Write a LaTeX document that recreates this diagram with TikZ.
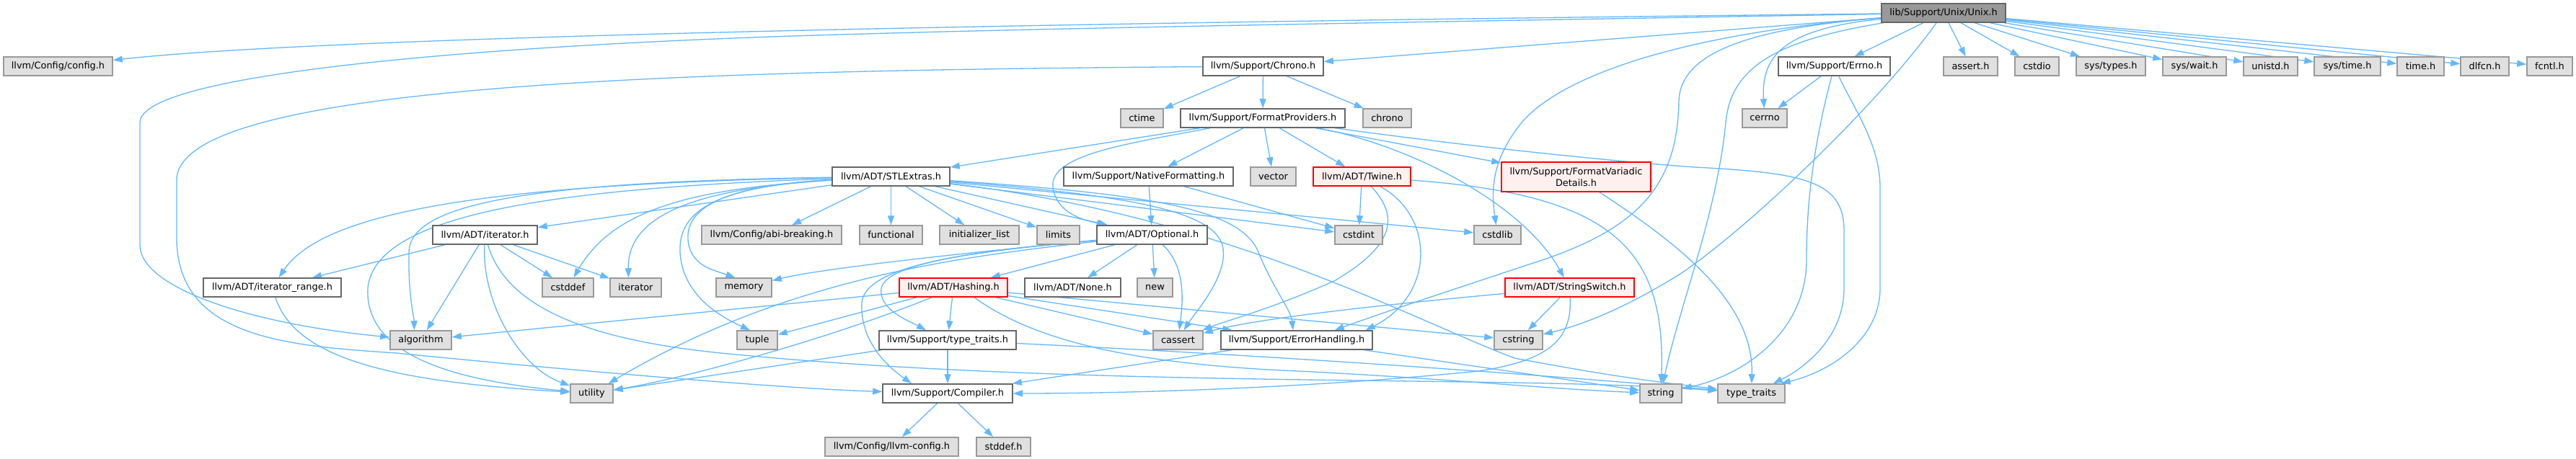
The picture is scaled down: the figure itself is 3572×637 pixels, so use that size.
\documentclass[tikz,border=0pt]{standalone}
\usepackage{fontspec}
\setmainfont{DejaVu Sans}
\usetikzlibrary{arrows.meta}
\definecolor{edgec}{HTML}{63B8FF}
\definecolor{gfill}{HTML}{E0E0E0}
\definecolor{gdraw}{HTML}{999999}
\definecolor{wdraw}{HTML}{666666}
\definecolor{rfill}{HTML}{FFF0F0}
\definecolor{rdraw}{HTML}{FF0000}
\definecolor{mfill}{HTML}{999999}
\pgfdeclarelayer{edgelayer}
\pgfsetlayers{edgelayer,main}
\begin{document}
\begin{tikzpicture}[x=1pt,y=-1pt,
  base/.style={rectangle, inner sep=0pt, minimum height=26pt, line width=1.5pt, font=\fontsize{12.9}{15.5}\selectfont},
  gnode/.style={base, draw=gdraw, fill=gfill},
  wnode/.style={base, draw=wdraw, fill=white},
  rnode/.style={base, draw=rdraw, fill=rfill},
  mnode/.style={base, draw=wdraw, fill=mfill},
  dep/.style={draw=edgec, line width=1.3pt, -{Triangle[length=13pt,width=9pt]}}]
\useasboundingbox (0,0) rectangle (3572,637);
% row 1
\node[mnode, minimum width=172pt] (unix) at (2695,18) {lib/Support/Unix/Unix.h};
% row 2
\node[gnode, minimum width=151pt] (config) at (80.5,92) {llvm/Config/config.h};
\node[wnode, minimum width=167pt] (chronoh) at (1751.5,92) {llvm/Support/Chrono.h};
\node[wnode, minimum width=155pt] (errnoh) at (2543.5,92) {llvm/Support/Errno.h};
\node[gnode, minimum width=75pt] (asserth) at (2732.5,92) {assert.h};
\node[gnode, minimum width=61pt] (cstdio) at (2824.5,92) {cstdio};
\node[gnode, minimum width=96pt] (systypes) at (2927,92) {sys/types.h};
\node[gnode, minimum width=88pt] (syswait) at (3043,92) {sys/wait.h};
\node[gnode, minimum width=75pt] (unistd) at (3148.5,92) {unistd.h};
\node[gnode, minimum width=92pt] (systime) at (3255,92) {sys/time.h};
\node[gnode, minimum width=65pt] (timeh) at (3356.5,92) {time.h};
\node[gnode, minimum width=67pt] (dlfcn) at (3445.5,92) {dlfcn.h};
\node[gnode, minimum width=63pt] (fcntl) at (3535.5,92) {fcntl.h};
% row 3
\node[gnode, minimum width=59pt] (ctime) at (1583.5,164) {ctime};
\node[wnode, minimum width=228pt] (fmtprov) at (1751,164) {llvm/Support/FormatProviders.h};
\node[gnode, minimum width=67pt] (chrono) at (1923.5,164) {chrono};
\node[gnode, minimum width=62pt] (cerrno) at (2447,164) {cerrno};
% row 4
\node[wnode, minimum width=163pt] (stlextras) at (1235.5,245) {llvm/ADT/STLExtras.h};
\node[wnode, minimum width=235pt] (natfmt) at (1592.5,245) {llvm/Support/NativeFormatting.h};
\node[gnode, minimum width=63pt] (vector) at (1765.5,245) {vector};
\node[rnode, minimum width=135pt] (twine) at (1888.5,245) {llvm/ADT/Twine.h};
\node[rnode, minimum width=207pt, minimum height=41pt, align=center] (fvd) at (2185.5,245.5) {llvm/Support/FormatVariadic\\Details.h};
% row 5
\node[wnode, minimum width=145pt] (iterh) at (672.5,326) {llvm/ADT/iterator.h};
\node[gnode, minimum width=194pt] (abi) at (1070,326) {llvm/Config/abi-breaking.h};
\node[gnode, minimum width=87pt] (functional) at (1235.5,326) {functional};
\node[gnode, minimum width=110pt] (initlist) at (1358,326) {initializer\_list};
\node[gnode, minimum width=59pt] (limits) at (1467.5,326) {limits};
\node[wnode, minimum width=153pt] (optional) at (1597.5,326) {llvm/ADT/Optional.h};
\node[gnode, minimum width=66pt] (cstdint) at (1884,326) {cstdint};
\node[gnode, minimum width=65pt] (cstdlib) at (2076.5,326) {cstdlib};
% row 6
\node[wnode, minimum width=191pt] (iterrange) at (377.5,399) {llvm/ADT/iterator\_range.h};
\node[gnode, minimum width=71pt] (cstddef) at (787.5,399) {cstddef};
\node[gnode, minimum width=71pt] (iterator) at (881.5,399) {iterator};
\node[gnode, minimum width=77pt] (memory) at (1031.5,399) {memory};
\node[rnode, minimum width=150pt] (hashing) at (1322,399) {llvm/ADT/Hashing.h};
\node[wnode, minimum width=133pt] (none) at (1487.5,399) {llvm/ADT/None.h};
\node[gnode, minimum width=49pt] (new) at (1601.5,399) {new};
\node[rnode, minimum width=179pt] (strswitch) at (2176.5,399) {llvm/ADT/StringSwitch.h};
% row 7
\node[gnode, minimum width=85pt] (algorithm) at (583.5,472) {algorithm};
\node[gnode, minimum width=56pt] (tuple) at (1050,472) {tuple};
\node[wnode, minimum width=190pt] (tth) at (1314,472) {llvm/Support/type\_traits.h};
\node[gnode, minimum width=69pt] (cassert) at (1633.5,472) {cassert};
\node[wnode, minimum width=210pt] (errh) at (1798,472) {llvm/Support/ErrorHandling.h};
\node[gnode, minimum width=67pt] (cstring) at (2105.5,472) {cstring};
% row 8
\node[gnode, minimum width=59pt] (utility) at (820.5,546) {utility};
\node[wnode, minimum width=180pt] (compiler) at (1314,546) {llvm/Support/Compiler.h};
\node[gnode, minimum width=58pt] (string) at (2303,546) {string};
\node[gnode, minimum width=93pt] (typetraits) at (2428.5,546) {type\_traits};
% row 9
\node[gnode, minimum width=185pt] (llvmcfg) at (1236.5,620) {llvm/Config/llvm-config.h};
\node[gnode, minimum width=75pt] (stddefh) at (1391.5,620) {stddef.h};

\begin{pgfonlayer}{edgelayer}
\fill[white] (0,0) rectangle (3572,637);
% ---- Unix.h
\draw[dep] (unix) .. controls (1800,28) and (500,45) .. (config);
\draw[dep] (unix) .. controls (2000,30) and (1500,38) .. (1200,47) .. controls (700,60) and (194,100) .. (194,170) -- (194,340) .. controls (194,400) and (350,450) .. (algorithm);
\draw[dep] (unix) -- (chronoh);
\draw[dep] (unix) -- (errnoh);
\draw[dep] (unix) .. controls (2470,40) and (2442,80) .. (cerrno);
\draw[dep] (unix) .. controls (2470,55) and (2400,90) .. (2393,170) .. controls (2380,300) and (2330,420) .. (string);
\draw[dep] (unix) .. controls (2350,45) and (2170,100) .. (2110,170) .. controls (2070,220) and (2067,260) .. (cstdlib);
\draw[dep] (unix) .. controls (2420,40) and (2330,75) .. (2328,140) .. controls (2326,260) and (2270,320) .. (2120,367) .. controls (1990,410) and (1900,440) .. ([xshift=-53pt]errh.north east);
\draw[dep] (unix) .. controls (2600,150) and (2420,320) .. (2330,380) .. controls (2250,430) and (2190,452) .. (cstring);
\draw[dep] (unix) -- (asserth);
\draw[dep] (unix) -- (cstdio);
\draw[dep] (unix) -- (systypes);
\draw[dep] (unix) -- (syswait);
\draw[dep] (unix) -- (unistd);
\draw[dep] (unix) -- (systime);
\draw[dep] (unix) -- (timeh);
\draw[dep] (unix) -- (dlfcn);
\draw[dep] (unix) -- (fcntl);
% ---- Chrono.h
\draw[dep] (chronoh) -- (ctime);
\draw[dep] (chronoh) -- (fmtprov);
\draw[dep] (chronoh) -- (chrono);
\draw[dep] (chronoh) .. controls (900,98) and (245,120) .. (245,250) -- (245,330) .. controls (245,470) and (400,480) .. (550,490) .. controls (800,515) and (1100,540) .. (compiler);
% ---- Errno.h
\draw[dep] (errnoh) -- (cerrno);
\draw[dep] (errnoh) .. controls (2515,200) and (2505,280) .. (2505,360) .. controls (2505,460) and (2420,520) .. (string);
\draw[dep] (errnoh) .. controls (2570,150) and (2607,200) .. (2607,260) -- (2607,400) .. controls (2607,470) and (2540,515) .. ([xshift=-6pt]typetraits.north east);
% ---- FormatProviders.h
\draw[dep] (fmtprov) -- (stlextras);
\draw[dep] (fmtprov) -- (natfmt);
\draw[dep] (fmtprov) -- (vector);
\draw[dep] (fmtprov) -- (twine);
\draw[dep] (fmtprov) -- (fvd);
\draw[dep] (fmtprov) .. controls (1560,200) and (1455,215) .. (1460,260) .. controls (1465,295) and (1500,305) .. (optional);
\draw[dep] (fmtprov) .. controls (1950,200) and (2110,280) .. (strswitch);
\draw[dep] (fmtprov) .. controls (2050,205) and (2250,225) .. (2350,232) .. controls (2500,240) and (2557,250) .. (2557,320) -- (2557,400) .. controls (2557,470) and (2500,512) .. ([xshift=-17pt]typetraits.north east);
% ---- Twine.h
\draw[dep] (twine) -- (cstdint);
\draw[dep] (twine) .. controls (1940,300) and (1935,340) .. (1850,390) .. controls (1760,430) and (1700,445) .. (cassert);
\draw[dep] (twine) .. controls (1990,300) and (1990,410) .. ([xshift=-10pt]errh.north east);
\draw[dep] (twine) .. controls (2230,270) and (2310,340) .. (string);
% ---- NativeFormatting.h
\draw[dep] (natfmt) -- (optional);
\draw[dep] (natfmt) -- (cstdint);
% ---- FormatVariadicDetails.h
\draw[dep] (fvd) .. controls (2330,340) and (2432,420) .. (typetraits);
% ---- STLExtras.h
\draw[dep] (stlextras) -- (iterh);
\draw[dep] (stlextras) -- (abi);
\draw[dep] (stlextras) -- (functional);
\draw[dep] (stlextras) -- (initlist);
\draw[dep] (stlextras) -- (limits);
\draw[dep] (stlextras) -- (optional);
\draw[dep] (stlextras) .. controls (700,255) and (450,290) .. (iterrange);
\draw[dep] (stlextras) .. controls (750,252) and (568,280) .. (567,350) .. controls (566,410) and (574,440) .. ([xshift=-9pt]algorithm.north);
\draw[dep] (stlextras) .. controls (750,262) and (520,300) .. (510,400) .. controls (505,500) and (650,530) .. (utility);
\draw[dep] (stlextras) .. controls (960,262) and (850,290) .. ([xshift=8pt]cstddef.north);
\draw[dep] (stlextras) .. controls (960,262) and (870,300) .. ([xshift=-10pt]iterator.north);
\draw[dep] (stlextras) .. controls (1000,258) and (945,290) .. (955,340) .. controls (962,370) and (990,375) .. ([xshift=-12pt]memory.north);
\draw[dep] (stlextras) .. controls (1000,258) and (940,290) .. (943,350) .. controls (946,410) and (1000,440) .. ([xshift=-10pt]tuple.north);
\draw[dep] (stlextras) -- (cstdint);
\draw[dep] (stlextras) -- (cstdlib);
\draw[dep] (stlextras) .. controls (1550,270) and (1680,290) .. (1695,340) .. controls (1705,380) and (1660,430) .. ([xshift=8pt]cassert.north);
\draw[dep] (stlextras) .. controls (1600,270) and (1720,290) .. (1745,350) .. controls (1765,400) and (1790,430) .. ([xshift=-5pt]errh.north);
\draw[dep] (stlextras) .. controls (1700,300) and (1950,440) .. (2100,497) .. controls (2250,525) and (2300,530) .. (typetraits);
% ---- Optional.h
\draw[dep] (optional) -- (hashing);
\draw[dep] (optional) -- (none);
\draw[dep] (optional) -- (new);
\draw[dep] (optional) .. controls (1645,370) and (1640,420) .. (cassert);
\draw[dep] (optional) .. controls (1400,345) and (1230,360) .. (1222,400) .. controls (1218,430) and (1260,445) .. ([xshift=-30pt]tth.north);
\draw[dep] (optional) .. controls (1400,345) and (1200,360) .. (1195,420) .. controls (1192,480) and (1240,515) .. ([xshift=-50pt]compiler.north);
\draw[dep] (optional) .. controls (1400,345) and (1150,370) .. (memory);
\draw[dep] (optional) .. controls (1350,355) and (1100,380) .. (utility);
% ---- Hashing.h
\draw[dep] (hashing) -- (tth);
\draw[dep] (hashing) -- (cassert);
\draw[dep] (hashing) -- (errh);
\draw[dep] (hashing) -- (cstring);
\draw[dep] ([xshift=29pt]hashing.south) .. controls (1430,470) and (1560,505) .. (1800,515) .. controls (2000,525) and (2150,540) .. (string);
\draw[dep] (hashing) -- (algorithm);
\draw[dep] (hashing) -- (tuple);
\draw[dep] ([xshift=-30pt]hashing.south) .. controls (1150,470) and (950,525) .. (utility);
% ---- type_traits.h
\draw[dep] (tth) -- (compiler);
\draw[dep] (tth) .. controls (1800,495) and (2200,525) .. (typetraits);
\draw[dep] (tth) -- (utility);
% ---- ErrorHandling.h
\draw[dep] (errh) -- (compiler);
\draw[dep] (errh) -- (string);
% ---- StringSwitch.h
\draw[dep] (strswitch) .. controls (1950,420) and (1750,440) .. (cassert);
\draw[dep] (strswitch) -- (cstring);
\draw[dep] (strswitch) .. controls (2180,470) and (2150,500) .. (2050,515) .. controls (1800,540) and (1550,546) .. (compiler);
% ---- iterator.h
\draw[dep] (iterh) -- (iterrange);
\draw[dep] (iterh) -- (algorithm);
\draw[dep] (iterh) -- (cstddef);
\draw[dep] (iterh) -- (iterator);
\draw[dep] (iterh) .. controls (668,420) and (720,510) .. (utility);
\draw[dep] (iterh) .. controls (700,420) and (800,470) .. (1000,490) .. controls (1500,540) and (2100,520) .. (typetraits);
% ---- iterator_range.h
\draw[dep] (iterrange) .. controls (410,500) and (550,530) .. (utility);
% ---- Compiler.h
\draw[dep] (compiler) -- (llvmcfg);
\draw[dep] (compiler) -- (stddefh);
\end{pgfonlayer}
\end{tikzpicture}
\end{document}
